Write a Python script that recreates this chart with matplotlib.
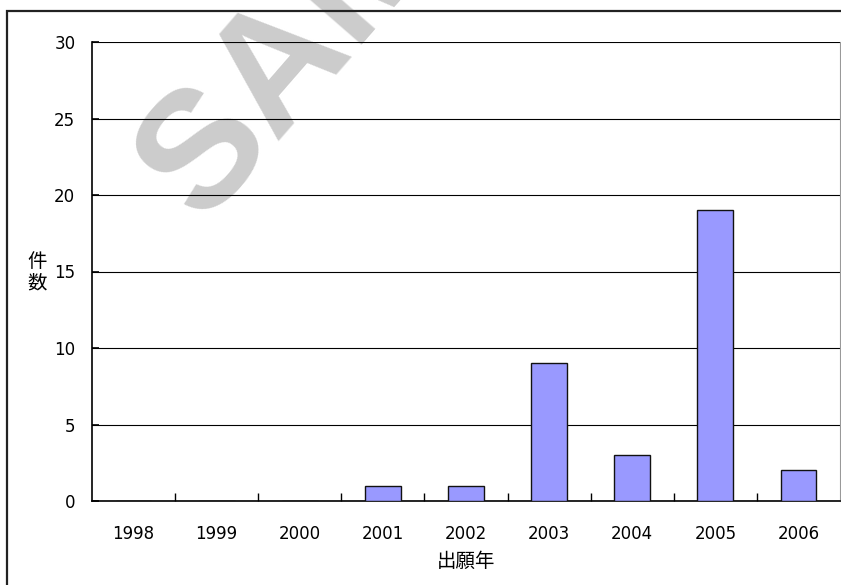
import matplotlib.pyplot as plt
from matplotlib.patches import Rectangle
from matplotlib import font_manager
import numpy as np

plt.rcParams['font.family'] = ['DejaVu Sans', 'Noto Sans CJK JP']

years = ['1998', '1999', '2000', '2001', '2002', '2003', '2004', '2005', '2006']
counts = [0, 0, 0, 1, 1, 9, 3, 19, 2]

installed = {f.name for f in font_manager.fontManager.ttflist}
wm_font = 'Liberation Sans Narrow' if 'Liberation Sans Narrow' in installed else 'Liberation Sans'

fig = plt.figure(figsize=(8.41, 5.85), dpi=100)
ax = fig.add_axes([92 / 841, 1 - 501 / 585, 748 / 841, 459 / 585])
ax.patch.set_alpha(0)

# outer frame of the chart area
fig.patches.append(Rectangle((7 / 841, -0.05), 1.0, (585 - 11) / 585 + 0.05,
                             transform=fig.transFigure, fill=False,
                             edgecolor='#222222', linewidth=1.6, zorder=1))

# watermark (cut off by the top edge, like the original)
fig.text(202 / 841, 1 - 224 / 585, 'SAMPLE', rotation=49, rotation_mode='anchor',
         fontsize=120, fontweight='bold', color='#cccccc', family=wm_font,
         ha='left', va='baseline', zorder=-1)

x = np.arange(len(years))
ax.bar(x, counts, width=0.43, color='#9999ff', edgecolor='#111111',
       linewidth=1.0, zorder=3)

ax.set_xlim(-0.5, len(years) - 0.5)
ax.set_ylim(0, 30)
ax.set_yticks([0, 5, 10, 15, 20, 25, 30])
ax.yaxis.grid(True, color='black', linewidth=0.8)
ax.set_axisbelow(True)

ax.set_xticks(x)
ax.set_xticklabels(years, fontsize=12)
ax.tick_params(axis='x', which='major', length=0, pad=17)
ax.set_xticks(np.arange(0.5, len(years) - 0.5), minor=True)
ax.tick_params(axis='x', which='minor', direction='in', length=6, width=1)
ax.tick_params(axis='y', direction='in', length=5, width=1.2, labelsize=12, pad=12)

ax.spines['top'].set_visible(False)
ax.spines['right'].set_color('#999999')
ax.spines['left'].set_linewidth(1.2)
ax.spines['bottom'].set_linewidth(1.2)

ax.set_xlabel('出願年', fontsize=14, labelpad=6, family='Noto Sans CJK JP')
fig.text(37 / 841, 1 - 272 / 585, '件\n数', fontsize=14, ha='center', va='center',
         linespacing=1.05, family='Noto Sans CJK JP')

fig.savefig('out.png', dpi=100)
